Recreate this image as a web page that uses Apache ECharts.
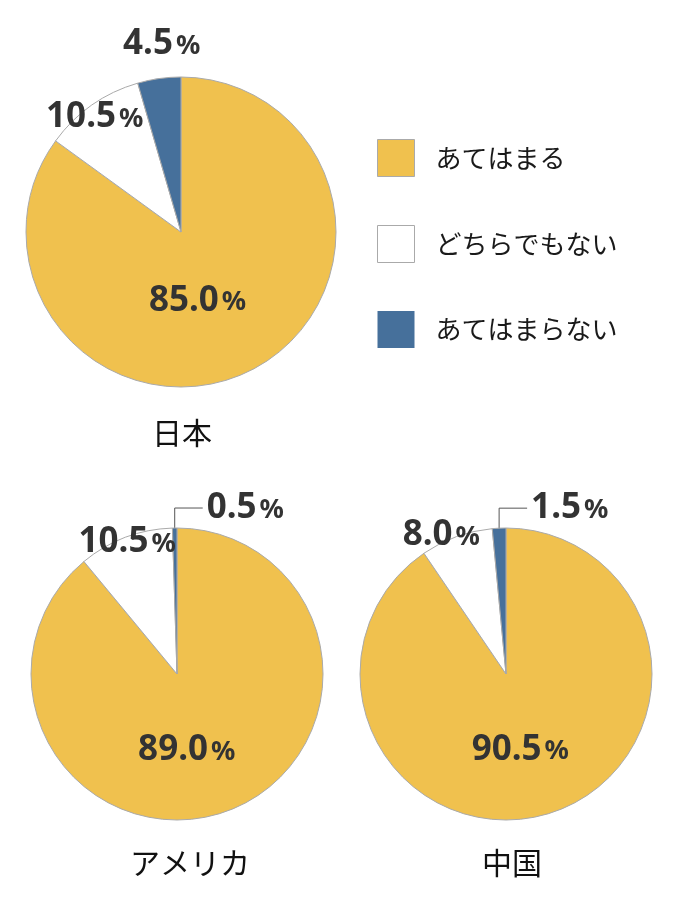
<!DOCTYPE html>
<html><head><meta charset="utf-8">
<script src="https://cdn.jsdelivr.net/npm/echarts@6/dist/echarts.min.js"></script>
<style>html,body{margin:0;padding:0;background:#fff}#c{width:687px;height:911px}</style>
</head><body><div id="c"></div>
<script>
// ---- data ----
const categories = ['あてはまる', 'どちらでもない', 'あてはまらない'];
const countries = ['日本', 'アメリカ', '中国'];
const japanValues = [85.0, 10.5, 4.5];
const americaValues = [89.0, 10.5, 0.5];
const chinaValues = [90.5, 8.0, 1.5];

// ---- styling / layout ----
const colors = ['#F0C14E', '#FFFFFF', '#46709B'];
const layouts = [
  { values: japanValues,   center: [181, 232], radius: 155, title: [182, 433],
    shift: [[-20, -3], [-40, -49], [-8, -108]], leader: [] },
  { values: americaValues, center: [177, 674], radius: 146, title: [190, 863],
    shift: [[-16, 5], [-23, -61], null], leader: [2] },
  { values: chinaValues,   center: [506, 674], radius: 146, title: [512, 863],
    shift: [[-8, 3], [-39, -67], null], leader: [2] }
];

const rich = {
  n: { fontFamily: 'Noto Sans', fontWeight: 'bold', fontSize: 35, color: '#333', verticalAlign: 'bottom' },
  p: { fontFamily: 'Noto Sans', fontWeight: 'bold', fontSize: 27, color: '#333', verticalAlign: 'bottom', padding: [0, 0, 2, 3] }
};

const chart = echarts.init(document.getElementById('c'), null, { renderer: 'canvas' });

const series = layouts.map((L, s) => ({
  type: 'pie',
  name: countries[s],
  center: L.center,
  radius: L.radius,
  startAngle: 90,
  clockwise: true,
  avoidLabelOverlap: false,
  silent: true,
  itemStyle: { borderColor: '#aaa', borderWidth: 1 },
  label: {
    show: true,
    formatter: p => '{n|' + p.value.toFixed(1) + '}{p|%}',
    rich: rich
  },
  labelLine: { show: false, length: 10, length2: 10, lineStyle: { color: '#555', width: 1 } },
  labelLayout: function (prm) {
    const i = prm.dataIndex;
    if (L.leader.indexOf(i) >= 0 && prm.labelLinePoints) {
      const p0 = prm.labelLinePoints[0];
      const top = p0[1] - 20;
      return {
        x: p0[0] + 32, y: top, align: 'left', verticalAlign: 'middle',
        labelLinePoints: [[p0[0], p0[1] + 7], [p0[0], top], [p0[0] + 28, top]]
      };
    }
    const r = prm.labelRect, d = L.shift[i] || [0, 0];
    return { x: r.x + r.width / 2 + d[0], y: r.y + r.height / 2 + d[1], align: 'center', verticalAlign: 'middle' };
  },
  data: L.values.map((v, i) => ({
    name: categories[i],
    value: v,
    itemStyle: { color: colors[i] },
    label: { position: L.leader.indexOf(i) >= 0 ? 'outside' : 'inside' },
    labelLine: { show: L.leader.indexOf(i) >= 0 }
  }))
}));

chart.setOption({
  animation: false,
  backgroundColor: '#fff',
  title: layouts.map((L, s) => ({
    text: countries[s],
    left: L.title[0],
    top: L.title[1],
    textAlign: 'center',
    textVerticalAlign: 'middle',
    padding: 0,
    textStyle: { fontFamily: 'Noto Sans CJK JP', fontSize: 30, fontWeight: 'normal', color: '#111' }
  })),
  legend: {
    orient: 'vertical',
    left: 377,
    top: 139,
    padding: 0,
    itemWidth: 37,
    itemHeight: 37,
    itemGap: 48,
    icon: 'rect',
    selectedMode: false,
    textStyle: { fontFamily: 'Noto Sans CJK JP', fontSize: 26, color: '#1a1a1a', padding: [0, 0, 0, 16] },
    data: categories.map((c, i) => ({
      name: c,
      itemStyle: { color: colors[i], borderColor: '#aaa', borderWidth: i === 2 ? 0 : 1 }
    }))
  },
  series: series
});
</script>
</body></html>
